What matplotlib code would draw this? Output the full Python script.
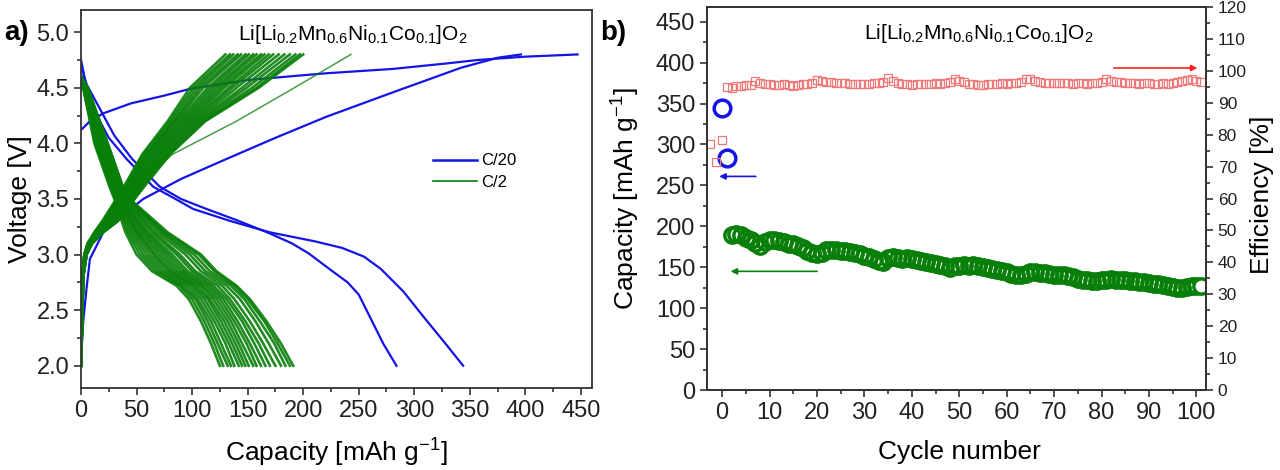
import matplotlib
matplotlib.use("Agg")
import matplotlib.pyplot as plt
from matplotlib.lines import Line2D
from matplotlib.ticker import MultipleLocator

plt.rcParams['font.family'] = 'Liberation Sans'
plt.rcParams['mathtext.fontset'] = 'custom'
plt.rcParams['mathtext.rm'] = 'Liberation Sans'
plt.rcParams['mathtext.it'] = 'Liberation Sans:italic'

# ---------------- panel a : voltage profiles ----------------
# C/20 (blue), capacity [mAh/g] and voltage [V]
c20_chg1_cap = [0, 8, 20, 45, 75, 98, 150, 220, 281, 330, 357, 400, 447]
c20_chg1_v = [4.12, 4.20, 4.27, 4.36, 4.43, 4.49, 4.57, 4.63, 4.67, 4.72, 4.75, 4.78, 4.80]
c20_chg2_cap = [0, 2, 5, 8, 20, 32, 56, 90, 131, 175, 221, 281, 342, 375, 396]
c20_chg2_v = [2.05, 2.40, 2.70, 2.96, 3.20, 3.31, 3.50, 3.68, 3.86, 4.05, 4.24, 4.46, 4.68, 4.77, 4.80]
c20_dis1_cap = [0, 3, 11, 25, 41, 65, 85, 101, 135, 170, 210, 235, 255, 270, 290, 310, 328, 344]
c20_dis1_v = [4.75, 4.60, 4.31, 4.05, 3.86, 3.61, 3.50, 3.41, 3.30, 3.20, 3.12, 3.06, 2.98, 2.87, 2.67, 2.42, 2.20, 2.00]
c20_dis2_cap = [0, 4, 17, 30, 46, 71, 90, 113, 140, 170, 190, 205, 225, 240, 250, 262, 272, 284]
c20_dis2_v = [4.72, 4.55, 4.31, 4.07, 3.86, 3.61, 3.50, 3.41, 3.31, 3.19, 3.10, 3.01, 2.86, 2.75, 2.64, 2.40, 2.20, 2.00]

# C/2 (green) discharge curves, capacity read at fixed voltages
c2_dis_v = [4.6, 4.5, 4.0, 3.6, 3.5, 3.2, 3.0, 2.85, 2.72, 2.6, 2.4, 2.2, 2.0]
c2_dis_caps = [
    [0, 2, 12, 26, 30, 40, 50, 64, 86, 97, 108, 117, 125],
    [0, 2, 13, 27, 31, 42, 53, 67, 89, 100, 111, 120, 128],
    [0, 2, 13, 27, 31, 44, 56, 70, 91, 103, 114, 123, 132],
    [0, 3, 14, 28, 32, 46, 59, 73, 94, 105, 117, 126, 135],
    [0, 3, 14, 28, 33, 48, 62, 76, 97, 108, 120, 130, 138],
    [0, 3, 15, 29, 34, 50, 65, 79, 100, 111, 123, 133, 142],
    [0, 3, 16, 30, 34, 51, 67, 81, 102, 114, 126, 136, 145],
    [0, 3, 16, 30, 35, 53, 70, 84, 105, 116, 129, 139, 148],
    [0, 4, 17, 31, 36, 55, 73, 87, 108, 119, 132, 142, 151],
    [0, 4, 17, 31, 36, 57, 76, 90, 110, 122, 135, 145, 155],
    [0, 4, 18, 32, 37, 59, 79, 93, 113, 125, 138, 149, 158],
    [0, 4, 19, 33, 38, 61, 82, 96, 116, 128, 141, 152, 162],
    [0, 4, 19, 33, 39, 64, 86, 100, 119, 131, 145, 156, 166],
    [0, 5, 20, 34, 40, 66, 89, 103, 123, 134, 148, 160, 170],
    [0, 5, 21, 35, 41, 69, 94, 108, 127, 138, 152, 164, 175],
    [0, 5, 22, 36, 42, 72, 98, 112, 131, 143, 157, 169, 180],
    [0, 6, 23, 37, 43, 74, 102, 116, 135, 147, 161, 174, 184],
    [0, 6, 24, 38, 43, 76, 106, 120, 138, 150, 165, 177, 188],
    [0, 6, 24, 38, 44, 78, 108, 122, 140, 152, 167, 180, 191],
]
# C/2 (green) charge curves
c2_chg_v = [2.0, 2.8, 3.0, 3.1, 3.2, 3.3, 3.6, 3.9, 4.2, 4.5, 4.8]
c2_chg_caps = [
    [0, 1, 3, 6, 12, 19, 38, 55, 78, 98, 130],
    [0, 1, 3, 6, 12, 20, 39, 56, 80, 101, 134],
    [0, 1, 3, 6, 13, 21, 40, 58, 82, 104, 137],
    [0, 1, 3, 7, 13, 21, 41, 59, 84, 107, 141],
    [0, 1, 3, 7, 14, 22, 42, 60, 85, 110, 144],
    [0, 1, 4, 7, 14, 23, 43, 62, 87, 114, 148],
    [0, 1, 4, 7, 14, 24, 44, 63, 89, 117, 151],
    [0, 1, 4, 7, 15, 24, 45, 65, 91, 120, 155],
    [0, 1, 4, 8, 15, 25, 46, 66, 93, 123, 158],
    [0, 1, 4, 8, 16, 26, 47, 67, 95, 126, 162],
    [0, 2, 4, 8, 16, 27, 48, 69, 97, 129, 165],
    [0, 2, 4, 8, 16, 28, 49, 70, 99, 133, 169],
    [0, 2, 4, 8, 17, 28, 50, 72, 101, 136, 173],
    [0, 2, 4, 9, 17, 29, 51, 73, 103, 140, 178],
    [0, 2, 5, 9, 18, 30, 52, 75, 105, 145, 183],
    [0, 2, 5, 9, 19, 31, 53, 76, 107, 149, 188],
    [0, 2, 5, 10, 19, 32, 54, 78, 109, 154, 193],
    [0, 2, 5, 10, 20, 33, 55, 79, 111, 158, 197],
    [0, 2, 5, 10, 20, 33, 56, 80, 112, 160, 200],
]
# one early C/2 charge reaching further
c2_chg_first = [0, 2, 5, 9, 16, 26, 50, 82, 140, 192, 243]

# ---------------- panel b : cycling ----------------
c20_cycles = [0, 1]
c20_capacity = [344, 283]
c2_cycles = list(range(2, 102))
c2_capacity = [190, 191, 189, 186, 183, 180, 176, 181, 183, 183,
               182, 181, 179, 178, 176, 173, 170, 168, 166, 167,
               171, 171, 171, 170, 170, 169, 168, 166, 164, 162,
               160, 158, 157, 161, 162, 161, 160, 161, 160, 159,
               158, 157, 155, 154, 153, 151, 149, 151, 152, 153,
               152, 153, 151, 150, 149, 148, 147, 146, 144, 142,
               141, 140, 142, 144, 144, 143, 143, 142, 141, 141,
               140, 139, 138, 136, 135, 134, 133, 133, 134, 135,
               136, 135, 134, 134, 133, 133, 132, 132, 131, 130,
               129, 128, 127, 126, 125, 125, 126, 127, 127, 127]
eff_first_cycles = [-2.5, -1.2, 0]
eff_first = [77.1, 71.4, 78.4]
eff_cycles = list(range(1, 102))
efficiency = [95.0, 94.6, 95.2, 95.4, 95.6, 95.5, 96.8, 96.2, 95.8, 95.9,
              95.7, 95.6, 95.8, 95.5, 95.4, 95.6, 95.8, 96.0, 96.3, 97.2,
              96.8, 96.5, 96.4, 96.3, 96.2, 96.1, 96.0, 95.9, 95.8, 95.9,
              96.0, 96.1, 96.3, 96.5, 97.6, 96.7, 96.2, 95.9, 95.8, 95.7,
              95.8, 95.9, 95.8, 96.0, 96.1, 96.0, 96.2, 96.5, 97.4, 96.8,
              96.4, 96.0, 95.8, 95.6, 95.7, 95.9, 95.8, 96.0, 96.1, 96.0,
              96.2, 96.3, 96.5, 97.3, 97.5, 96.8, 96.5, 96.3, 96.2, 96.2,
              96.1, 96.2, 96.1, 96.0, 96.1, 96.2, 96.0, 96.1, 96.3, 96.6,
              97.4, 96.9, 96.5, 96.4, 96.3, 96.2, 96.1, 96.0, 96.2, 96.1,
              96.0, 95.9, 96.1, 96.0, 96.2, 96.4, 96.7, 97.2, 97.3, 96.8,
              96.6]

formula = r'Li[Li$_{0.2}$Mn$_{0.6}$Ni$_{0.1}$Co$_{0.1}$]O$_2$'
blue = '#1414e6'
green = '#087f08'
red = '#f07878'
spine_col = '#333333'

fig = plt.figure(figsize=(12.8, 4.7), dpi=100)
axa = fig.add_axes([0.0633, 0.1745, 0.3992, 0.8043])
axb = fig.add_axes([0.5523, 0.1702, 0.3898, 0.8149])


def style(ax):
    for s in ax.spines.values():
        s.set_color(spine_col)
        s.set_linewidth(1.3)
    ax.tick_params(which='both', direction='out', colors=spine_col,
                   labelcolor='#222222', width=1.2)
    ax.tick_params(which='major', length=5, labelsize=17)
    ax.tick_params(which='minor', length=3)


# panel a
axa.plot(c20_chg1_cap, c20_chg1_v, color=blue, lw=1.6)
axa.plot(c20_chg2_cap, c20_chg2_v, color=blue, lw=1.6)
axa.plot(c20_dis1_cap, c20_dis1_v, color=blue, lw=1.6)
axa.plot(c20_dis2_cap, c20_dis2_v, color=blue, lw=1.6)
axa.plot(c2_chg_first, c2_chg_v, color=green, lw=1.1, alpha=0.75)
for caps in c2_dis_caps:
    axa.plot(caps, c2_dis_v, color=green, lw=1.9, alpha=0.9)
for caps in c2_chg_caps:
    axa.plot(caps, c2_chg_v, color=green, lw=1.9, alpha=0.9)

axa.set_xlim(0, 460)
axa.set_ylim(1.8, 5.2)
axa.xaxis.set_major_locator(MultipleLocator(50))
axa.xaxis.set_minor_locator(MultipleLocator(25))
axa.yaxis.set_major_locator(MultipleLocator(0.5))
axa.yaxis.set_minor_locator(MultipleLocator(0.25))
axa.yaxis.set_major_formatter(plt.FormatStrFormatter('%.1f'))
style(axa)
axa.set_xlabel(r'Capacity [mAh g$^{-1}$]', fontsize=19)
axa.set_ylabel('Voltage [V]', fontsize=19)
axa.xaxis.set_label_coords(0.5, -0.13)
axa.yaxis.set_label_coords(-0.096, 0.5)
axa.text(0.532, 0.934, formula, transform=axa.transAxes, ha='center',
         va='center', fontsize=15)
handles = [Line2D([], [], color=blue, lw=1.8), Line2D([], [], color=green, lw=1.2)]
axa.legend(handles, ['C/20', 'C/2'], loc='upper left', bbox_to_anchor=(0.66, 0.66),
           frameon=False, fontsize=12, handlelength=2.6, handletextpad=0.3,
           labelspacing=0.4)
fig.text(0.003, 0.93, 'a)', fontsize=20, fontweight='bold', va='center')

# panel b
axb.plot(c20_cycles, c20_capacity, 'o', ms=12, mfc='none', mec=blue, mew=2.5, zorder=4)
axb.plot(c2_cycles[:-1], c2_capacity[:-1], 'o', ms=11, mfc='none', mec=green, mew=2.5)
axb.plot(c2_cycles[-1:], c2_capacity[-1:], 'o', ms=11, mfc='white', mec=green, mew=2.5)
axb.set_xlim(-3.2, 102)
axb.set_ylim(0, 468)
axb.xaxis.set_major_locator(MultipleLocator(10))
axb.xaxis.set_minor_locator(MultipleLocator(5))
axb.yaxis.set_major_locator(MultipleLocator(50))
axb.yaxis.set_minor_locator(MultipleLocator(25))
style(axb)
axb.tick_params(right=False, top=False, which='both')
axb.set_xlabel('Cycle number', fontsize=19)
axb.set_ylabel(r'Capacity [mAh g$^{-1}$]', fontsize=19)
axb.xaxis.set_label_coords(0.507, -0.13)
axb.yaxis.set_label_coords(-0.130, 0.5)
axb.annotate('', xy=(-1.2, 261), xytext=(7.7, 261),
             arrowprops=dict(arrowstyle='-|>', color=blue, lw=1.2, mutation_scale=9))
axb.annotate('', xy=(1.2, 145), xytext=(20.6, 145),
             arrowprops=dict(arrowstyle='-|>', color=green, lw=1.2, mutation_scale=9))
axb.text(0.545, 0.932, formula, transform=axb.transAxes, ha='center',
         va='center', fontsize=15)

ax2 = axb.twinx()
ax2.plot(eff_first_cycles, eff_first, 's', ms=5.5, mfc='none', mec=red, mew=0.9)
ax2.plot(eff_cycles, efficiency, 's', ms=5.5, mfc='none', mec=red, mew=0.9)
ax2.set_ylim(0, 120)
ax2.yaxis.set_major_locator(MultipleLocator(10))
ax2.yaxis.set_minor_locator(MultipleLocator(5))
style(ax2)
ax2.tick_params(axis='y', which='major', labelsize=12.5)
ax2.set_ylabel('Efficiency [%]', fontsize=19)
ax2.yaxis.set_label_coords(1.088, 0.51)
ax2.annotate('', xy=(100.8, 100.9), xytext=(82, 100.9),
             arrowprops=dict(arrowstyle='-|>', color='#ff2020', lw=1.2, mutation_scale=9))
fig.text(0.469, 0.93, 'b)', fontsize=20, fontweight='bold', va='center')

fig.savefig('out.png', dpi=100)
